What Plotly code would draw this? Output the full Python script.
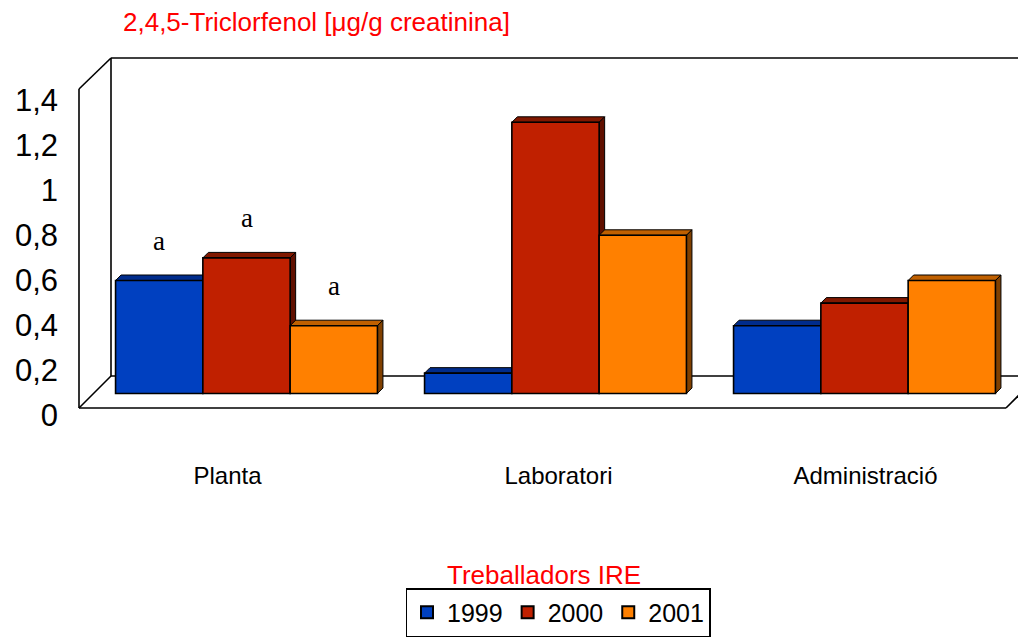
import plotly.graph_objects as go

# ---------------- data ----------------
categories = ["Planta", "Laboratori", "Administració"]
years = ["1999", "2000", "2001"]
values_1999 = [0.50, 0.09, 0.30]
values_2000 = [0.60, 1.20, 0.40]
values_2001 = [0.30, 0.70, 0.50]
letters_1999 = ["a", "", ""]
letters_2000 = ["a", "", ""]
letters_2001 = ["a", "", ""]
y_tick_vals = [0, 0.2, 0.4, 0.6, 0.8, 1.0, 1.2, 1.4]
y_tick_text = ["0", "0,2", "0,4", "0,6", "0,8", "1", "1,2", "1,4"]

title_text = "2,4,5-Triclorfenol [μg/g creatinina]"
legend_title = "Treballadors IRE"

# ---------------- styles ----------------
front_colors = ["#0040C0", "#C02000", "#FF8000"]
top_colors = ["#002C8C", "#801800", "#C06000"]
side_colors = ["#001E66", "#601000", "#804000"]
FONT = "Liberation Sans, Arial, sans-serif"
cat_label_shift_px = [-19, 3, 1]     # perspective shift of category labels

OFF = 8                      # page body margin
W, H = 1026 - OFF, 639 - OFF
# plot area in page pixels: x 92..1019, y 40..420
PW, PH = 927, 380
ML = 92 - OFF
MT = 40 - OFF
MR = W - ML - PW
MB = H - MT - PH
X_RANGE = [-0.5, 2.5]
Y_RANGE = [-0.1173, 1.5642]          # bars: 0 at front-base of bars
Y2_RANGE = [-0.0222, 1.6667]         # tick labels on front edge

bar_w = 0.2825
depth_px = 5.5
x_per_px = (X_RANGE[1] - X_RANGE[0]) / PW
dx = depth_px * x_per_px
dy = depth_px / PH * (Y_RANGE[1] - Y_RANGE[0])


def px_x(p):
    return (p - OFF - ML) / PW


def px_y(p):
    return (MT + PH - (p - OFF)) / PH


series = [values_1999, values_2000, values_2001]
letters = [letters_1999, letters_2000, letters_2001]

fig = go.Figure()
shapes = []
annotations = []

# frame (3D walls/floor) in page pixel coords
frame_lines = [
    ((111, 58), (1030, 58)),
    ((111, 58), (111, 376)),
    ((111, 376), (1030, 376)),
    ((111, 58), (79, 89)),
    ((79, 89), (79, 408)),
    ((111, 376), (79, 408)),
    ((79, 408), (1006, 408)),
    ((1006, 408), (1038, 376)),
]
for (x0, y0), (x1, y1) in frame_lines:
    shapes.append(dict(type="line", xref="paper", yref="paper",
                       x0=px_x(x0), y0=px_y(y0), x1=px_x(x1), y1=px_y(y1),
                       line=dict(color="black", width=1.6), layer="below"))

for j, (yr, vals) in enumerate(zip(years, series)):
    xs = [i + (j - 1) * bar_w for i in range(len(categories))]
    fig.add_trace(go.Bar(
        x=xs, y=vals, width=bar_w, name=yr,
        marker=dict(color=front_colors[j], line=dict(color="black", width=1.6)),
        hoverinfo="y",
    ))
    for xc, v, lab in zip(xs, vals, letters[j]):
        x0, x1 = xc - bar_w / 2, xc + bar_w / 2
        # top face
        shapes.append(dict(
            type="path", xref="x", yref="y", layer="below",
            path=f"M{x0},{v} L{x1},{v} L{x1+dx},{v+dy} L{x0+dx},{v+dy} Z",
            fillcolor=top_colors[j], line=dict(color="black", width=1)))
        # side face
        shapes.append(dict(
            type="path", xref="x", yref="y", layer="below",
            path=f"M{x1},{0} L{x1+dx},{dy} L{x1+dx},{v+dy} L{x1},{v} Z",
            fillcolor=side_colors[j], line=dict(color="black", width=1)))
        if lab:
            annotations.append(dict(
                x=xc, y=v, xref="x", yref="y", text=lab, showarrow=False,
                yshift=40, yanchor="middle",
                font=dict(family="Liberation Serif, Times New Roman, serif",
                          size=27, color="black")))

# invisible trace to carry the tick-label axis
fig.add_trace(go.Scatter(x=[None], y=[None], yaxis="y2", showlegend=False,
                         hoverinfo="skip"))

annotations.append(dict(
    x=px_x(316), y=px_y(22), xref="paper", yref="paper", text=title_text,
    showarrow=False, xanchor="center", yanchor="middle",
    font=dict(family=FONT, size=26, color="#FF0000")))
annotations.append(dict(
    x=px_x(544), y=px_y(575), xref="paper", yref="paper", text=legend_title,
    showarrow=False, xanchor="center", yanchor="middle",
    font=dict(family=FONT, size=26, color="#FF0000")))

cat_tickvals = [i + s * x_per_px for i, s in enumerate(cat_label_shift_px)]

fig.update_layout(
    width=W, height=H,
    margin=dict(l=ML, r=MR, t=MT, b=MB),
    paper_bgcolor="white", plot_bgcolor="white",
    barmode="overlay",
    font=dict(family=FONT, color="black"),
    xaxis=dict(range=X_RANGE, tickvals=cat_tickvals, ticktext=categories,
               showgrid=False, zeroline=False, showline=False, ticks="",
               tickfont=dict(size=24), ticklabelstandoff=39, fixedrange=True),
    yaxis=dict(range=Y_RANGE, showgrid=False, zeroline=False, showline=False,
               showticklabels=False, ticks="", fixedrange=True),
    yaxis2=dict(range=Y2_RANGE, overlaying="y", side="left", anchor="x",
                tickvals=y_tick_vals, ticktext=y_tick_text, showgrid=False,
                zeroline=False, showline=False, ticks="",
                tickfont=dict(size=31), ticklabelstandoff=33, fixedrange=True),
    shapes=shapes,
    annotations=annotations,
    showlegend=True,
    legend=dict(orientation="h", xref="container", yref="container",
                x=(558 - OFF) / W, xanchor="center",
                y=1 - (637 - OFF) / H, yanchor="bottom",
                bordercolor="black", borderwidth=1.5, bgcolor="white",
                font=dict(size=25, family=FONT), itemsizing="constant",
                traceorder="normal"),
)

fig.write_html("out.html")
